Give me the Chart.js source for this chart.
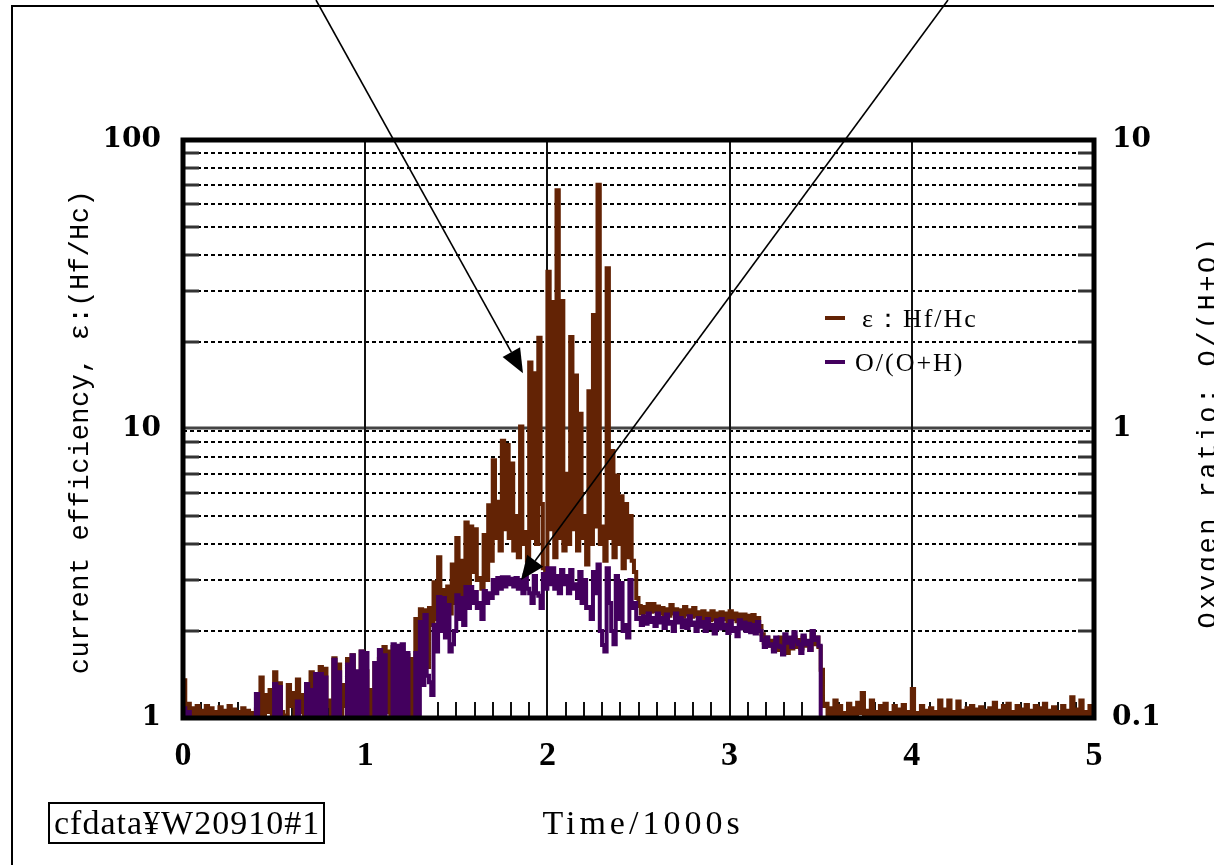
<!DOCTYPE html>
<html>
<head>
<meta charset="utf-8">
<script src="https://cdn.jsdelivr.net/npm/chart.js@4.4.1/dist/chart.umd.min.js"></script>
<style>
  html, body { margin: 0; padding: 0; background: #fff; }
  #wrap { width: 1214px; height: 865px; }
</style>
</head>
<body>
<div id="wrap"><canvas id="cfChart" width="1214" height="865"></canvas></div>
<script>
// logger bin width, in 1000 s; each bin keeps its max and min reading
const sampleStep = 0.025;

// current efficiency, ε = Hf/Hc (left axis) - bin maxima
const effHigh = [
  1.35, 1.12, 1.08, 1.10, 1.06, 1.10, 1.08, 1.05, 1.09, 1.06,
  1.10, 1.07, 1.05, 1.08, 1.06, 1.04, 1.07, 1.38, 1.20, 1.25,
  1.44, 1.32, 1.02, 1.30, 1.22, 1.36, 1.20, 1.05, 1.44, 1.38,
  1.50, 1.48, 1.15, 1.61, 1.53, 1.30, 1.60, 1.65, 1.42, 1.70,
  1.45, 1.25, 1.55, 1.60, 1.76, 1.70, 1.76, 1.68, 1.62, 1.65,
  1.60, 2.20, 2.38, 2.36, 2.40, 2.95, 3.60, 2.77, 2.85, 3.40,
  4.20, 3.50, 4.75, 4.60, 4.50, 3.05, 4.30, 5.45, 7.80, 5.60,
  9.10, 8.80, 7.60, 5.00, 10.2, 4.40, 17.0, 15.6, 20.7, 3.30,
  35.0, 27.5, 67.0, 27.7, 7.00, 20.8, 15.3, 11.3, 5.00, 13.5,
  24.8, 70.0, 4.60, 36.0, 8.40, 6.90, 5.85, 5.50, 5.00, 3.20,
  2.44, 2.42, 2.48, 2.48, 2.43, 2.40, 2.38, 2.46, 2.38, 2.36,
  2.42, 2.36, 2.40, 2.32, 2.34, 2.30, 2.34, 2.30, 2.32, 2.30,
  2.34, 2.30, 2.28, 2.28, 2.26, 2.27, 2.22, 1.95, 1.90, 1.85,
  1.82, 1.90, 1.78, 1.85, 1.90, 1.86, 1.90, 1.82, 1.95, 1.90,
  1.47, 1.12, 1.08, 1.15, 1.10, 1.04, 1.12, 1.08, 1.13, 1.22,
  1.06, 1.15, 1.05, 1.10, 1.12, 1.04, 1.10, 1.07, 1.11, 1.05,
  1.26, 1.04, 1.10, 1.06, 1.08, 1.05, 1.15, 1.07, 1.15, 1.05,
  1.14, 1.06, 1.08, 1.10, 1.07, 1.09, 1.06, 1.08, 1.13, 1.06,
  1.10, 1.12, 1.05, 1.10, 1.07, 1.11, 1.06, 1.10, 1.08, 1.12,
  1.06, 1.09, 1.05, 1.10, 1.06, 1.18, 1.07, 1.15, 1.05, 1.10,
  1.04
];

// current efficiency - bin minima
const effLow = [
  1.02, 1.00, 1.02, 1.00, 1.01, 1.00, 1.02, 1.00, 1.01, 1.00,
  1.02, 1.00, 1.01, 1.00, 1.01, 1.00, 1.00, 1.02, 1.05, 1.00,
  1.00, 1.05, 1.00, 1.10, 1.00, 1.05, 1.00, 1.00, 1.10, 1.05,
  1.00, 1.10, 1.00, 1.05, 1.00, 1.10, 1.00, 1.05, 1.00, 1.00,
  1.00, 1.00, 1.10, 1.00, 1.05, 1.00, 1.00, 1.00, 1.05, 1.00,
  1.00, 1.60, 2.00, 1.50, 2.10, 2.20, 2.40, 2.30, 2.30, 2.50,
  2.60, 2.60, 2.80, 3.20, 3.00, 2.80, 3.00, 3.50, 4.20, 3.80,
  4.50, 4.20, 3.80, 3.60, 4.00, 3.50, 4.20, 4.00, 5.50, 3.00,
  4.50, 3.60, 4.20, 3.80, 4.00, 4.50, 3.80, 4.20, 3.40, 4.00,
  4.60, 4.00, 3.50, 4.20, 3.60, 4.00, 3.30, 3.60, 3.50, 2.60,
  2.30, 2.32, 2.33, 2.34, 2.30, 2.28, 2.26, 2.30, 2.26, 2.24,
  2.28, 2.24, 2.26, 2.20, 2.22, 2.18, 2.20, 2.18, 2.20, 2.16,
  2.20, 2.16, 2.15, 2.14, 2.12, 2.14, 2.08, 1.82, 1.78, 1.74,
  1.72, 1.76, 1.68, 1.74, 1.76, 1.74, 1.78, 1.72, 1.80, 1.76,
  1.10, 1.00, 1.02, 1.00, 1.03, 1.00, 1.02, 1.00, 1.04, 1.00,
  1.02, 1.00, 1.01, 1.03, 1.00, 1.01, 1.00, 1.02, 1.00, 1.01,
  1.00, 1.02, 1.00, 1.01, 1.03, 1.00, 1.02, 1.00, 1.01, 1.00,
  1.02, 1.00, 1.03, 1.01, 1.00, 1.02, 1.00, 1.01, 1.00, 1.02,
  1.00, 1.03, 1.00, 1.01, 1.00, 1.02, 1.00, 1.03, 1.01, 1.00,
  1.02, 1.00, 1.01, 1.00, 1.02, 1.00, 1.03, 1.00, 1.01, 1.00,
  1.00
];

// oxygen ratio O/(O+H) (right axis) - bin maxima; 0.09 lies under the axis floor
const oxyHigh = [
  0.108, 0.105, 0.09, 0.09, 0.09, 0.09, 0.09, 0.09, 0.09, 0.09,
  0.09, 0.09, 0.09, 0.09, 0.09, 0.09, 0.121, 0.09, 0.09, 0.095,
  0.131, 0.128, 0.09, 0.095, 0.09, 0.114, 0.09, 0.131, 0.125, 0.142,
  0.142, 0.138, 0.09, 0.159, 0.144, 0.09, 0.153, 0.165, 0.145, 0.170,
  0.168, 0.09, 0.155, 0.172, 0.165, 0.095, 0.180, 0.178, 0.180, 0.168,
  0.09, 0.168, 0.215, 0.227, 0.133, 0.210, 0.262, 0.260, 0.246, 0.180,
  0.266, 0.260, 0.284, 0.284, 0.273, 0.250, 0.275, 0.270, 0.300, 0.305,
  0.307, 0.307, 0.303, 0.305, 0.300, 0.312, 0.270, 0.310, 0.265, 0.315,
  0.330, 0.330, 0.310, 0.325, 0.310, 0.325, 0.290, 0.320, 0.300, 0.242,
  0.320, 0.340, 0.179, 0.330, 0.200, 0.310, 0.293, 0.210, 0.300, 0.250,
  0.222, 0.225, 0.230, 0.222, 0.230, 0.222, 0.228, 0.215, 0.230, 0.222,
  0.218, 0.225, 0.214, 0.222, 0.215, 0.220, 0.210, 0.218, 0.220, 0.210,
  0.216, 0.205, 0.218, 0.214, 0.212, 0.210, 0.215, 0.186, 0.190, 0.180,
  0.190, 0.176, 0.195, 0.190, 0.198, 0.180, 0.193, 0.185, 0.200, 0.190,
  0.09, 0.09, 0.09, 0.09, 0.09, 0.09, 0.09, 0.09, 0.09, 0.09,
  0.09, 0.09, 0.09, 0.09, 0.09, 0.09, 0.09, 0.09, 0.09, 0.09,
  0.09, 0.09, 0.09, 0.09, 0.09, 0.09, 0.09, 0.09, 0.09, 0.09,
  0.09, 0.09, 0.09, 0.09, 0.09, 0.09, 0.09, 0.09, 0.09, 0.09,
  0.09, 0.09, 0.09, 0.09, 0.09, 0.09, 0.09, 0.09, 0.09, 0.09,
  0.09, 0.09, 0.09, 0.09, 0.09, 0.09, 0.09, 0.09, 0.09, 0.09,
  0.09
];

// oxygen ratio - bin minima
const oxyLow = [
  0.100, 0.100, 0.09, 0.09, 0.09, 0.09, 0.09, 0.09, 0.09, 0.09,
  0.09, 0.09, 0.09, 0.09, 0.09, 0.09, 0.09, 0.09, 0.09, 0.09,
  0.09, 0.09, 0.09, 0.09, 0.09, 0.09, 0.09, 0.09, 0.09, 0.09,
  0.09, 0.09, 0.09, 0.09, 0.09, 0.09, 0.09, 0.09, 0.09, 0.09,
  0.09, 0.09, 0.09, 0.09, 0.09, 0.09, 0.09, 0.09, 0.09, 0.09,
  0.09, 0.09, 0.130, 0.140, 0.120, 0.170, 0.200, 0.190, 0.170, 0.200,
  0.220, 0.210, 0.240, 0.250, 0.240, 0.220, 0.250, 0.260, 0.270, 0.280,
  0.285, 0.290, 0.285, 0.280, 0.270, 0.280, 0.250, 0.270, 0.240, 0.280,
  0.290, 0.280, 0.270, 0.290, 0.270, 0.280, 0.260, 0.250, 0.240, 0.220,
  0.270, 0.200, 0.170, 0.250, 0.180, 0.220, 0.200, 0.190, 0.240, 0.220,
  0.210, 0.212, 0.215, 0.208, 0.214, 0.205, 0.212, 0.200, 0.214, 0.206,
  0.205, 0.210, 0.200, 0.207, 0.200, 0.205, 0.196, 0.204, 0.205, 0.197,
  0.200, 0.192, 0.204, 0.200, 0.198, 0.196, 0.200, 0.176, 0.178, 0.170,
  0.178, 0.166, 0.182, 0.176, 0.184, 0.168, 0.180, 0.172, 0.186, 0.178,
  0.09, 0.09, 0.09, 0.09, 0.09, 0.09, 0.09, 0.09, 0.09, 0.09,
  0.09, 0.09, 0.09, 0.09, 0.09, 0.09, 0.09, 0.09, 0.09, 0.09,
  0.09, 0.09, 0.09, 0.09, 0.09, 0.09, 0.09, 0.09, 0.09, 0.09,
  0.09, 0.09, 0.09, 0.09, 0.09, 0.09, 0.09, 0.09, 0.09, 0.09,
  0.09, 0.09, 0.09, 0.09, 0.09, 0.09, 0.09, 0.09, 0.09, 0.09,
  0.09, 0.09, 0.09, 0.09, 0.09, 0.09, 0.09, 0.09, 0.09, 0.09,
  0.09
];

const timeTicks = [0, 1, 2, 3, 4, 5];
const leftTicks = [1, 10, 100];
const rightTicks = [0.1, 1, 10];
const minorLevels = [2, 3, 4, 5, 6, 7, 8, 9, 20, 30, 40, 50, 60, 70, 80, 90];

const effLabel = "ε：Hf/Hc";
const oxyLabel = "O/(O+H)";
const effColor = "#632305";
const oxyColor = "#43005e";

// each bin gives its maximum at the bin start and its minimum half a bin later
function binTrace(high, low) {
  const pts = [];
  high.forEach((v, i) => {
    const t = i * sampleStep;
    pts.push({ x: +t.toFixed(4), y: v });
    pts.push({ x: +(t + sampleStep / 2).toFixed(4), y: low[i] });
  });
  return pts;
}

function drawArrow(ctx, x1, y1, x2, y2) {
  const ang = Math.atan2(y2 - y1, x2 - x1);
  const len = 24, half = 10;
  const bx = x2 - len * Math.cos(ang);
  const by = y2 - len * Math.sin(ang);
  ctx.beginPath();
  ctx.moveTo(x1, y1);
  ctx.lineTo(bx, by);
  ctx.stroke();
  ctx.beginPath();
  ctx.moveTo(x2, y2);
  ctx.lineTo(bx + half * Math.sin(ang), by - half * Math.cos(ang));
  ctx.lineTo(bx - half * Math.sin(ang), by + half * Math.cos(ang));
  ctx.closePath();
  ctx.fill();
}

const decorations = {
  id: "decorations",
  beforeDatasetsDraw(chart) {
    const { ctx, chartArea: a } = chart;
    const x = chart.scales.x, y = chart.scales.y;
    ctx.save();

    // dotted minor levels
    ctx.strokeStyle = "#000";
    ctx.lineWidth = 2;
    ctx.setLineDash([4, 3]);
    minorLevels.forEach((v) => {
      const py = Math.round(y.getPixelForValue(v));
      ctx.beginPath();
      ctx.moveTo(a.left, py);
      ctx.lineTo(a.right, py);
      ctx.stroke();
    });
    const p10 = Math.round(y.getPixelForValue(10));
    ctx.beginPath();
    ctx.moveTo(a.left, p10 + 2);
    ctx.lineTo(a.right, p10 + 2);
    ctx.stroke();
    ctx.setLineDash([]);

    // decade line
    ctx.strokeStyle = "#444";
    ctx.lineWidth = 3;
    ctx.beginPath();
    ctx.moveTo(a.left, p10 - 1);
    ctx.lineTo(a.right, p10 - 1);
    ctx.stroke();

    // vertical grid
    ctx.strokeStyle = "#111";
    ctx.lineWidth = 2;
    timeTicks.slice(1, -1).forEach((t) => {
      const px = Math.round(x.getPixelForValue(t));
      ctx.beginPath();
      ctx.moveTo(px, a.top);
      ctx.lineTo(px, a.bottom);
      ctx.stroke();
    });

    // small inward ticks along the time axis
    for (let k = 1; k < 50; k++) {
      const px = Math.round(x.getPixelForValue(k / 10));
      ctx.beginPath();
      ctx.moveTo(px, a.bottom);
      ctx.lineTo(px, a.bottom - 16);
      ctx.stroke();
    }

    // inward ticks on both value axes
    ctx.strokeStyle = "#333";
    ctx.lineWidth = 3;
    minorLevels.forEach((v) => {
      const py = Math.round(y.getPixelForValue(v));
      ctx.beginPath();
      ctx.moveTo(a.left, py);
      ctx.lineTo(a.left + 16, py);
      ctx.moveTo(a.right, py);
      ctx.lineTo(a.right - 16, py);
      ctx.stroke();
    });
    ctx.restore();
  },
  afterDatasetsDraw(chart) {
    const { ctx, chartArea: a } = chart;
    const x = chart.scales.x, y = chart.scales.y;
    ctx.save();

    // heavy plot frame
    ctx.strokeStyle = "#000";
    ctx.lineWidth = 5;
    ctx.strokeRect(a.left, a.top, a.right - a.left, a.bottom - a.top);

    // callout arrows
    ctx.lineWidth = 1.6;
    ctx.fillStyle = "#000";
    drawArrow(ctx, 316, 0, x.getPixelForValue(1.866), y.getPixelForValue(15.6));
    drawArrow(ctx, 948, 0, x.getPixelForValue(1.855), y.getPixelForValue(3.0));

    // legend
    const ds = chart.data.datasets;
    ctx.lineWidth = 4;
    ctx.textBaseline = "middle";
    ctx.font = "26px 'Liberation Serif'";
    ctx.letterSpacing = "2px";
    [[ds[0], 318, 862], [ds[1], 362, 855]].forEach(([d, ly, tx]) => {
      ctx.strokeStyle = d.borderColor;
      ctx.beginPath();
      ctx.moveTo(825, ly);
      ctx.lineTo(845, ly);
      ctx.stroke();
      ctx.fillStyle = "#000";
      ctx.fillText(d.label, tx, ly + 2);
    });

    // axis titles
    ctx.fillStyle = "#000";
    ctx.strokeStyle = "#000";
    ctx.textAlign = "center";
    ctx.textBaseline = "alphabetic";
    ctx.font = "34px 'Liberation Serif'";
    ctx.letterSpacing = "4px";
    ctx.fillText("Time/1000s", 643, 834);

    ctx.font = "27px 'Liberation Mono'";
    ctx.letterSpacing = "0.5px";
    ctx.save();
    ctx.translate(88, 432);
    ctx.rotate(-Math.PI / 2);
    ctx.fillText("current efficiency, ε:(Hf/Hc)", 0, 0);
    ctx.restore();

    ctx.font = "27px 'Liberation Mono'";
    ctx.letterSpacing = "2.5px";
    ctx.save();
    ctx.translate(1216, 432);
    ctx.rotate(-Math.PI / 2);
    ctx.fillText("Oxygen ratio: O/(H+O)", 0, 0);
    ctx.restore();

    // data file tag
    ctx.textAlign = "left";
    ctx.font = "34px 'Liberation Serif'";
    ctx.letterSpacing = "1px";
    ctx.fillText("cfdata¥W20910#1", 54, 834);
    ctx.lineWidth = 2;
    ctx.strokeRect(49, 803, 275, 40);

    // page border
    ctx.strokeRect(12, 6, 1300, 1000);
    ctx.restore();
  }
};

new Chart(document.getElementById("cfChart"), {
  type: "line",
  data: {
    datasets: [
      { label: effLabel, data: binTrace(effHigh, effLow), yAxisID: "y", borderColor: effColor, borderWidth: 4, stepped: true, pointRadius: 0, order: 2 },
      { label: oxyLabel, data: binTrace(oxyHigh, oxyLow), yAxisID: "y2", borderColor: oxyColor, borderWidth: 4, stepped: true, pointRadius: 0, order: 1 },
    ],
  },
  options: {
    responsive: false,
    animation: false,
    events: [],
    layout: { padding: { top: 140, left: 0, right: 0, bottom: 0 } },
    plugins: { legend: { display: false }, tooltip: { enabled: false } },
    scales: {
      x: {
        type: "linear", min: 0, max: 5,
        afterBuildTicks: (s) => { s.ticks = timeTicks.map((v) => ({ value: v })); },
        afterFit: (s) => { s.height = 147; },
        ticks: { color: "#000", padding: 10, maxRotation: 0, autoSkip: false, font: { family: "'Liberation Serif'", size: 34, weight: "bold" } },
        grid: { display: false },
        border: { display: false },
      },
      y: {
        type: "logarithmic", position: "left", min: 1, max: 100,
        afterBuildTicks: (s) => { s.ticks = leftTicks.map((v) => ({ value: v })); },
        afterFit: (s) => { s.width = 183; },
        ticks: { color: "#000", padding: 14, callback: (v) => String(v), font: { family: "'DejaVu Serif'", size: 28, weight: "bold" } },
        grid: { display: false },
        border: { display: false },
      },
      y2: {
        type: "logarithmic", position: "right", min: 0.1, max: 10,
        afterBuildTicks: (s) => { s.ticks = rightTicks.map((v) => ({ value: v })); },
        afterFit: (s) => { s.width = 120; },
        ticks: { color: "#000", padding: 10, callback: (v) => String(v), font: { family: "'DejaVu Serif'", size: 28, weight: "bold" } },
        grid: { display: false },
        border: { display: false },
      },
    },
  },
  plugins: [decorations],
});
</script>
</body>
</html>
